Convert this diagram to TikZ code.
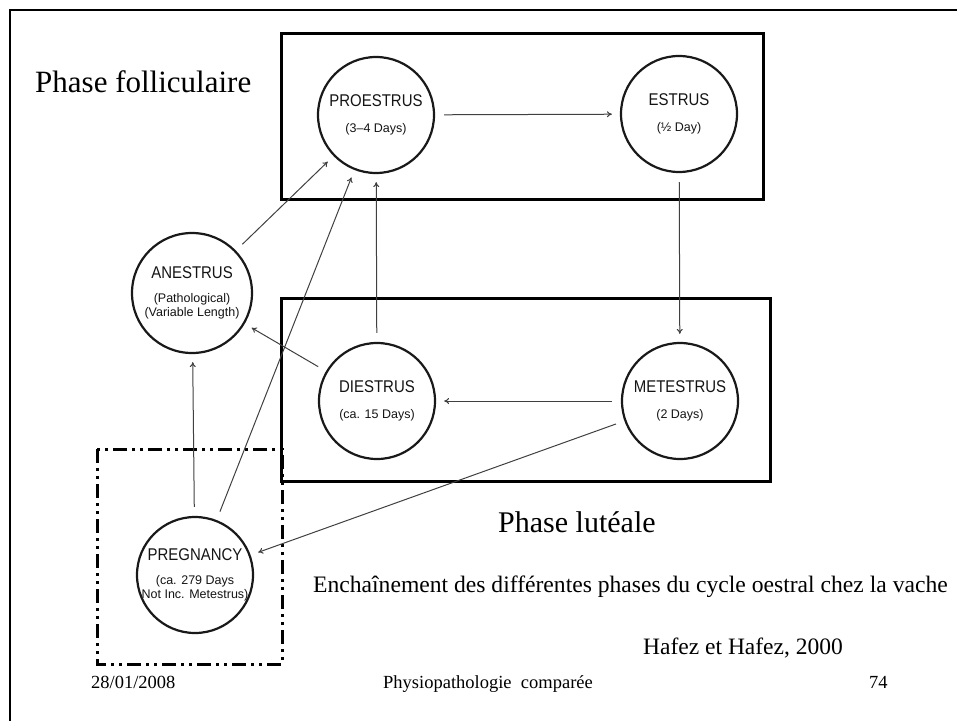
\documentclass[tikz,border=0pt]{standalone}
\usepackage{fontspec}
\setmainfont{Liberation Serif}
\newfontfamily\circfont{Liberation Sans}
\newfontfamily\circtitlefont[FakeStretch=0.88]{Liberation Sans}
\usetikzlibrary{arrows.meta}
\newcommand\phasetitle[1]{{\circtitlefont\fontsize{17}{20}\selectfont #1}}

\begin{document}
\begin{tikzpicture}[x=1pt,y=-1pt,
  phase/.style={circle, draw=black!90, line width=2.2pt, minimum size=116pt, inner sep=0pt},
  inside/.style={align=center, text=black!92, font=\circfont\fontsize{12.5}{14}\selectfont},
  flow/.style={draw=black!75, line width=1pt, -{To[length=5pt,width=6pt]},
    shorten <=9pt, shorten >=8pt},
  phasebox/.style={draw=black, line width=3pt},
  gestbox/.style={draw=black, line width=3pt,
    dash pattern=on 14pt off 5pt on 3pt off 5pt on 3pt off 5pt},
  bigtext/.style={anchor=base west, inner sep=0pt, font=\fontsize{31}{36}\selectfont},
  captext/.style={anchor=base west, inner sep=0pt, font=\fontsize{23.6}{28}\selectfont},
  foottext/.style={anchor=base west, inner sep=0pt, font=\fontsize{18.5}{22}\selectfont}
]
\useasboundingbox (0,0) rectangle (957,720);

% slide frame
\draw[line width=2.5pt] (10,730) -- (10,10) -- (967,10);

% phase groupings
\draw[phasebox] (281,33) rectangle (763,199);
\draw[phasebox] (281,298) rectangle (770,481);
\draw[gestbox] (97,449) rectangle (282,664);

% stages of the cycle
\node[phase, label={[inside, name=pro-txt]center:{\phasetitle{PROESTRUS}\\[12pt](3–4 Days)}}]
  (pro) at (376,115) {};
\node[phase, label={[inside, name=est-txt]center:{\phasetitle{ESTRUS}\\[12pt](½ Day)}}]
  (est) at (679,114) {};
\node[phase, label={[inside, name=met-txt]center:{\phasetitle{METESTRUS}\\[12pt](2 Days)}}]
  (met) at (680,401) {};
\node[phase, label={[inside, name=die-txt]center:{\phasetitle{DIESTRUS}\\[12pt](ca. 15 Days)}}]
  (die) at (377,401) {};
\node[phase, minimum size=120pt, label={[inside, name=ane-txt]center:{\phasetitle{ANESTRUS}\\[10pt](Pathological)\\(Variable Length)}}]
  (ane) at (192,293) {};
\node[phase, label={[inside, name=pre-txt]center:{\phasetitle{PREGNANCY}\\[10pt](ca. 279 Days\\Not Inc. Metestrus)}}]
  (pre) at (195,575) {};

% transitions
\draw[flow] (pro) -- (est);
\draw[flow] (est) -- (met);
\draw[flow] (met) -- (die);
\draw[flow] (die) -- (pro);
\draw[flow] (die) -- (ane);
\draw[flow] (ane) -- (pro);
\draw[flow] (pre) -- (pro);
\draw[flow] (pre) -- (ane);
\draw[flow] (met) -- (pre);

% captions
\node[bigtext] (foll) at (35,92) {Phase folliculaire};
\node[bigtext, font=\fontsize{30}{36}\selectfont] (lut) at (498,532) {Phase lutéale};
\node[captext] (title) at (313,592) {Enchaînement des différentes phases du cycle oestral chez la vache};
\node[captext, font=\fontsize{23.5}{28}\selectfont] (ref) at (643,654) {Hafez et Hafez, 2000};
\node[foottext] (date) at (91,688) {28/01/2008};
\node[foottext] (course) at (383,688) {Physiopathologie\ \ comparée};
\node[foottext] (page) at (869,688) {74};
\end{tikzpicture}
\end{document}
